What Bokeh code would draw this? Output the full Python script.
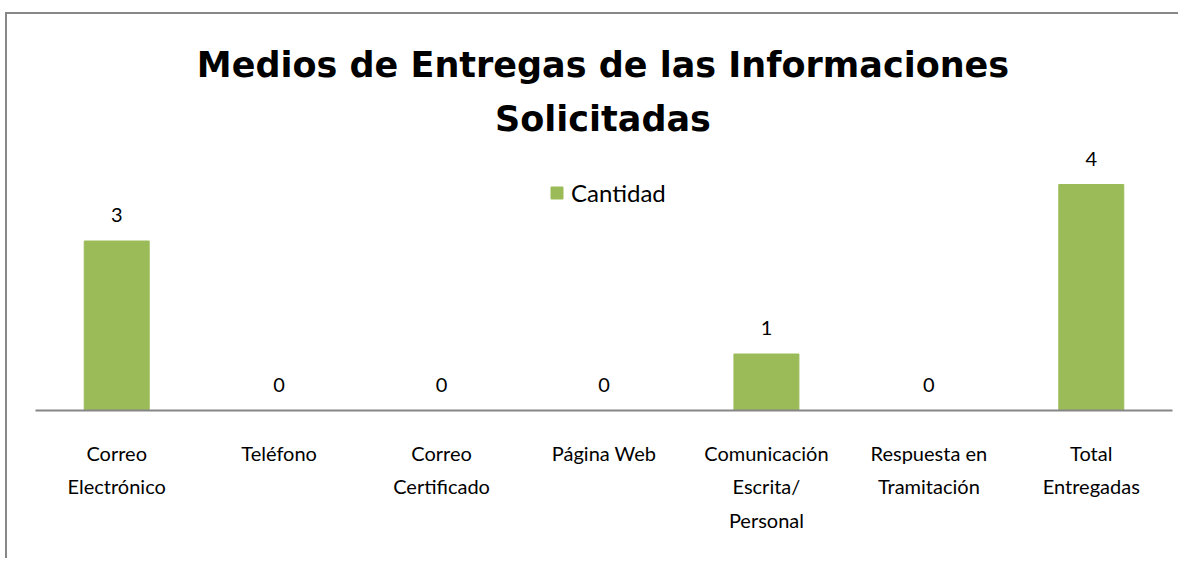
from bokeh.plotting import figure
from bokeh.models import Label, ColumnDataSource, Range1d
from bokeh.core.properties import value
from bokeh.embed import file_html
from bokeh.resources import INLINE

categories = ["Correo\nElectrónico", "Teléfono", "Correo\nCertificado", "Página Web",
              "Comunicación\nEscrita/\nPersonal", "Respuesta en\nTramitación", "Total\nEntregadas"]
cantidad = [3, 0, 0, 0, 1, 0, 4]
title_lines = ["Medios de Entregas de las Informaciones", "Solicitadas"]
series_name = "Cantidad"

GREEN = "#9BBB59"
FONT = "Lato"
TFONT = "DejaVu Sans"
BORDER = "#888888"

src = ColumnDataSource(dict(cat=categories, val=cantidad, lbl=[str(v) for v in cantidad]))

bg = (f"linear-gradient({BORDER},{BORDER}) 5px 12px / 2px 700px no-repeat, "
      f"linear-gradient({BORDER},{BORDER}) 5px 12px / 1400px 2px no-repeat, #ffffff")

p = figure(x_range=categories, y_range=Range1d(0, 410 / 56.5), width=1178, height=558,
           output_backend="svg", toolbar_location=None,
           min_border_left=35, min_border_right=6, min_border_top=0, min_border_bottom=148,
           styles={"background": bg})
p.background_fill_color = None
p.border_fill_color = None
p.outline_line_color = None
p.grid.visible = False
p.yaxis.visible = False

p.vbar(x="cat", top="val", width=0.4, source=src, color=GREEN, legend_label=series_name)
p.text(x="cat", y="val", text="lbl", source=src, text_align="center", text_baseline="alphabetic",
       y_offset=-26, text_font=value(FONT), text_font_size="20px", text_color="black")

ax = p.xaxis[0]
ax.axis_line_color = "#868686"
ax.axis_line_width = 2
ax.major_tick_line_color = None
ax.minor_tick_line_color = None
ax.major_tick_in = 0
ax.major_tick_out = 0
ax.major_label_standoff = 30
ax.major_label_text_font = FONT
ax.major_label_text_font_size = "20px"
ax.major_label_text_color = "black"
ax.major_label_text_line_height = 1.4
ax.major_label_orientation = "horizontal"

leg = p.legend[0]
leg.location = (514, 203)
leg.glyph_width = 15
leg.glyph_height = 15
leg.padding = 0
leg.margin = 0
leg.spacing = 0
leg.label_standoff = 7
leg.border_line_color = None
leg.background_fill_alpha = 0
leg.label_text_font = FONT
leg.label_text_font_size = "24px"
leg.label_text_color = "black"

for txt, yy in zip(title_lines, [345.5, 291.5]):
    p.add_layout(Label(x=567.5, y=yy, x_units="screen", y_units="screen", text=txt,
                       text_align="center", text_baseline="alphabetic",
                       text_font=TFONT, text_font_size="35px", text_font_style="bold",
                       text_color="black"))

open("out.html", "w").write(file_html(p, INLINE))
